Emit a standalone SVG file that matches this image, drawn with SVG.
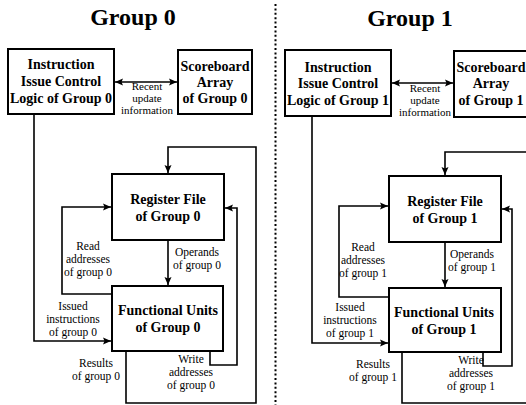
<svg xmlns="http://www.w3.org/2000/svg" width="526" height="405" viewBox="0 0 526 405">
<defs>
<style>
.box{fill:#fff;stroke:#000;stroke-width:2}
.bt{font-family:"Liberation Serif","Times New Roman",serif;font-weight:bold;font-size:14px;text-anchor:middle;fill:#000}
.title{font-family:"Liberation Serif","Times New Roman",serif;font-weight:bold;font-size:24px;text-anchor:middle;fill:#000}
.lb{font-family:"Liberation Serif","Times New Roman",serif;font-size:11.5px;text-anchor:middle;fill:#000}
.lbs{font-size:11px}
.ln{fill:none;stroke:#000;stroke-width:1.6}
.arr{marker-end:url(#ah)}
.dbl{marker-end:url(#ah);marker-start:url(#ah)}
</style>
<marker id="ah" markerUnits="userSpaceOnUse" markerWidth="10" markerHeight="10" viewBox="0 0 10 10" refX="9" refY="5" orient="auto-start-reverse">
<path d="M1,1.5 L9,5 L1,8.5 L2.5,5 Z" fill="#000"/>
</marker>
</defs>
<rect width="526" height="405" fill="#fff"/>
<line x1="275.5" y1="4" x2="275.5" y2="405" stroke="#000" stroke-width="2" stroke-dasharray="2 2.4"/>

<text class="title" x="133" y="25">Group 0</text>
<text class="title" x="410" y="26">Group 1</text>

<g id="connectors">
<path class="ln dbl" d="M115,82 H177"/>
<path class="ln arr" d="M34,114 V341 H111"/>
<path class="ln arr" d="M112,294 H62 V207 H111"/>
<path class="ln arr" d="M168,240 V285"/>
<path class="ln arr" d="M210,351 V365 H237 V208 H225"/>
<path class="ln arr" d="M126,351 V403 H256 V147 H168 V173"/>

<path class="ln dbl" d="M392,83 H453"/>
<path class="ln arr" d="M312,116 V343 H388"/>
<path class="ln arr" d="M389,297 H339 V206 H388"/>
<path class="ln arr" d="M445,242 V287"/>
<path class="ln arr" d="M483,352 V366 H512 V209 H502"/>
<path class="ln arr" d="M402,352 V403 H540 V152 H445 V175"/>
</g>

<g id="issue0">
<rect class="box" x="8" y="49" width="106" height="65"/>
<text class="bt" x="61" y="69">Instruction</text>
<text class="bt" x="61" y="86">Issue Control</text>
<text class="bt" x="61" y="103">Logic of Group 0</text>
</g>
<g id="scoreboard0">
<rect class="box" x="178" y="50" width="74" height="64"/>
<text class="bt" x="215" y="71">Scoreboard</text>
<text class="bt" x="215" y="87">Array</text>
<text class="bt" x="215" y="103">of Group 0</text>
</g>
<g id="regfile0">
<rect class="box" x="112" y="174" width="112" height="66"/>
<text class="bt" x="168" y="204">Register File</text>
<text class="bt" x="168" y="221">of Group 0</text>
</g>
<g id="fu0">
<rect class="box" x="112" y="286" width="111" height="65"/>
<text class="bt" x="168" y="315">Functional Units</text>
<text class="bt" x="168" y="332">of Group 0</text>
</g>

<g id="labels0">
<text class="lb lbs" x="147" y="90">Recent</text>
<text class="lb lbs" x="147" y="102">update</text>
<text class="lb lbs" x="147" y="114">information</text>
<text class="lb" x="88" y="250">Read</text>
<text class="lb" x="88" y="263">addresses</text>
<text class="lb" x="88" y="276">of group 0</text>
<text class="lb" x="197" y="256">Operands</text>
<text class="lb" x="197" y="269">of group 0</text>
<text class="lb" x="73" y="310">Issued</text>
<text class="lb" x="73" y="323">instructions</text>
<text class="lb" x="73" y="336">of group 0</text>
<text class="lb" x="96" y="367">Results</text>
<text class="lb" x="96" y="380">of group 0</text>
<text class="lb" x="191" y="363">Write</text>
<text class="lb" x="191" y="376">addresses</text>
<text class="lb" x="191" y="389">of group 0</text>
</g>

<g id="issue1">
<rect class="box" x="285" y="50" width="106" height="66"/>
<text class="bt" x="338" y="72">Instruction</text>
<text class="bt" x="338" y="88">Issue Control</text>
<text class="bt" x="338" y="105">Logic of Group 1</text>
</g>
<g id="scoreboard1">
<rect class="box" x="454" y="51" width="80" height="66"/>
<text class="bt" x="491" y="72">Scoreboard</text>
<text class="bt" x="491" y="88">Array</text>
<text class="bt" x="491" y="105">of Group 1</text>
</g>
<g id="regfile1">
<rect class="box" x="389" y="176" width="112" height="66"/>
<text class="bt" x="445" y="206">Register File</text>
<text class="bt" x="445" y="223">of Group 1</text>
</g>
<g id="fu1">
<rect class="box" x="389" y="288" width="112" height="64"/>
<text class="bt" x="444" y="317">Functional Units</text>
<text class="bt" x="444" y="334">of Group 1</text>
</g>

<g id="labels1">
<text class="lb lbs" x="425" y="92">Recent</text>
<text class="lb lbs" x="425" y="104">update</text>
<text class="lb lbs" x="425" y="116">information</text>
<text class="lb" x="363" y="251">Read</text>
<text class="lb" x="363" y="264">addresses</text>
<text class="lb" x="363" y="277">of group 1</text>
<text class="lb" x="472" y="258">Operands</text>
<text class="lb" x="472" y="271">of group 1</text>
<text class="lb" x="350" y="311">Issued</text>
<text class="lb" x="350" y="324">instructions</text>
<text class="lb" x="350" y="337">of group 1</text>
<text class="lb" x="373" y="368">Results</text>
<text class="lb" x="373" y="381">of group 1</text>
<text class="lb" x="471" y="364">Write</text>
<text class="lb" x="471" y="377">addresses</text>
<text class="lb" x="471" y="390">of group 1</text>
</g>
</svg>
